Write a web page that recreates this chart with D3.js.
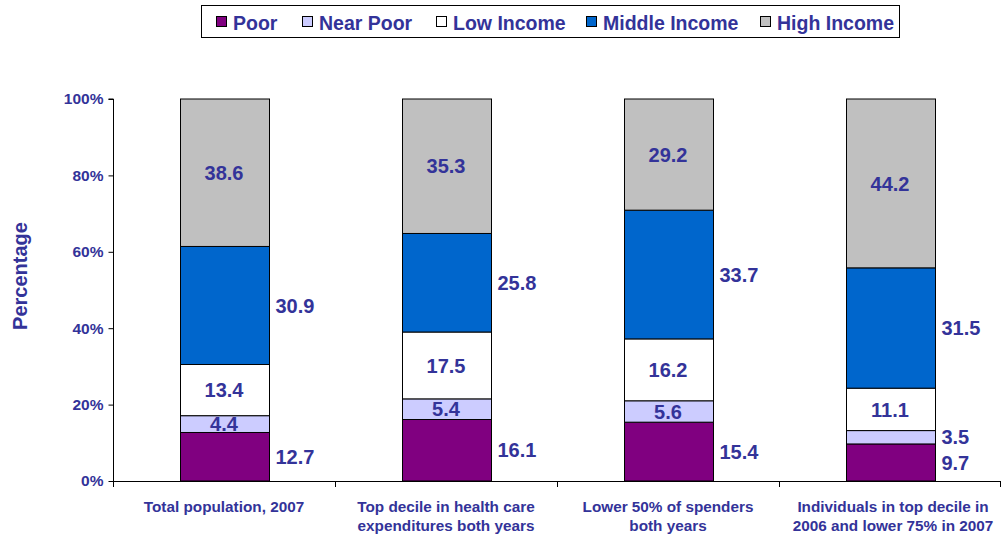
<!DOCTYPE html>
<html><head><meta charset="utf-8">
<script src="https://cdn.jsdelivr.net/npm/d3@7"></script>
<style>body{margin:0;background:#fff}svg{display:block}</style>
</head><body>
<script>
const categories = [
  ["Total population, 2007"],
  ["Top decile in health care", "expenditures both years"],
  ["Lower 50% of spenders", "both years"],
  ["Individuals in top decile in", "2006 and lower 75% in 2007"]
];
const seriesNames = ["Poor", "Near Poor", "Low Income", "Middle Income", "High Income"];
const poor = [12.7, 16.1, 15.4, 9.7];
const nearPoor = [4.4, 5.4, 5.6, 3.5];
const lowIncome = [13.4, 17.5, 16.2, 11.1];
const middleIncome = [30.9, 25.8, 33.7, 31.5];
const highIncome = [38.6, 35.3, 29.2, 44.2];
const yTicks = [0, 20, 40, 60, 80, 100];
const colors = ["#800080", "#ccccff", "#ffffff", "#0066cc", "#c0c0c0"];
const textColor = "#333399";

(function () {
const W = 1001, H = 537;
const svg = d3.select("body").append("svg").attr("width", W).attr("height", H);
const font = "Liberation Sans, Arial, sans-serif";

const mL = 113, mR = 1001, mT = 99, mB = 481;
const x = d3.scaleBand().domain(d3.range(categories.length)).range([mL, mR]).paddingInner(0.6).paddingOuter(0.3);
const y = d3.scaleLinear().domain([0, 100]).range([mB, mT]);

const seriesVals = [poor, nearPoor, lowIncome, middleIncome, highIncome];
const rows = categories.map((c, i) => {
  const r = {i};
  seriesNames.forEach((s, k) => r[s] = seriesVals[k][i]);
  return r;
});
const stack = d3.stack().keys(seriesNames)(rows);

// bars
stack.forEach((layer, k) => {
  svg.append("g").selectAll("rect").data(layer).join("rect")
    .attr("x", d => Math.round(x(d.data.i)) + 0.5)
    .attr("y", d => y(Math.min(100, d[1])))
    .attr("width", Math.round(x.bandwidth()))
    .attr("height", d => y(d[0]) - y(Math.min(100, d[1])))
    .attr("fill", colors[k])
    .attr("stroke", "#000").attr("stroke-width", 1);
});

// labels
stack.forEach((layer, k) => {
  const name = seriesNames[k];
  svg.append("g").selectAll("text").data(layer).join("text")
    .each(function(d) {
      const v = d[1] - d[0];
      const outside = name === "Poor" || name === "Middle Income" || (name === "Near Poor" && v < 4);
      const cy = (y(d[0]) + y(d[1])) / 2;
      d3.select(this)
        .attr("x", outside ? x(d.data.i) + x.bandwidth() + 7 : x(d.data.i) + x.bandwidth() / 2)
        .attr("y", cy)
        .attr("text-anchor", outside ? "start" : "middle")
        .text(v.toFixed(1));
    })
    .attr("dy", "0.36em")
    .attr("font-family", font).attr("font-weight", "bold").attr("font-size", 20)
    .attr("fill", textColor);
});

// y axis
const yAxis = svg.append("g").attr("transform", `translate(${mL + 0.5},0)`)
  .call(d3.axisLeft(y).tickValues(yTicks).tickFormat(d => d + "%").tickSize(5).tickPadding(5));
yAxis.select(".domain").attr("stroke", "#000").attr("d", `M-5,${mT}H0V${mB + 6}`);
yAxis.selectAll(".tick line").attr("stroke", "#000");
yAxis.selectAll("text").attr("font-family", font).attr("font-weight", "bold").attr("font-size", 15.5).attr("fill", textColor);

// x axis
const xg = svg.append("g");
xg.append("line").attr("x1", mL).attr("x2", mR - 1).attr("y1", mB + 0.5).attr("y2", mB + 0.5).attr("stroke", "#000");
const step = (mR - mL) / categories.length;
xg.selectAll("line.t").data(d3.range(categories.length + 1)).join("line").attr("class", "t")
  .attr("x1", i => Math.round(Math.min(mL + i * step, mR - 1)) + 0.5).attr("x2", i => Math.round(Math.min(mL + i * step, mR - 1)) + 0.5)
  .attr("y1", mB).attr("y2", mB + 6).attr("stroke", "#000");
categories.forEach((lines, i) => {
  const cx = x(i) + x.bandwidth() / 2 + (i === categories.length - 1 ? 3 : 0);
  const t = xg.append("text").attr("x", cx).attr("y", 511.5)
    .attr("text-anchor", "middle").attr("font-family", font).attr("font-weight", "bold").attr("font-size", 15.3).attr("fill", textColor);
  lines.forEach((l, j) => t.append("tspan").attr("x", cx).attr("dy", j === 0 ? 0 : 19.5).text(l));
});

// y title
svg.append("text").attr("transform", "translate(27,276) rotate(-90)").attr("text-anchor", "middle")
  .attr("font-family", font).attr("font-weight", "bold").attr("font-size", 20).attr("fill", textColor).text("Percentage");

// legend
const lg = svg.append("g");
lg.append("rect").attr("x", 201.5).attr("y", 5.5).attr("width", 698).attr("height", 32).attr("fill", "#fff").attr("stroke", "#000");
const legX = [216, 302, 436, 586, 760];
seriesNames.forEach((s, k) => {
  lg.append("rect").attr("x", legX[k] + 0.5).attr("y", 16.5).attr("width", 10).attr("height", 10).attr("fill", colors[k]).attr("stroke", "#000");
  lg.append("text").attr("x", legX[k] + 17).attr("y", 30).attr("font-family", font).attr("font-weight", "bold").attr("font-size", 19.5).attr("fill", textColor).text(s);
});
})();
</script>
</body></html>
